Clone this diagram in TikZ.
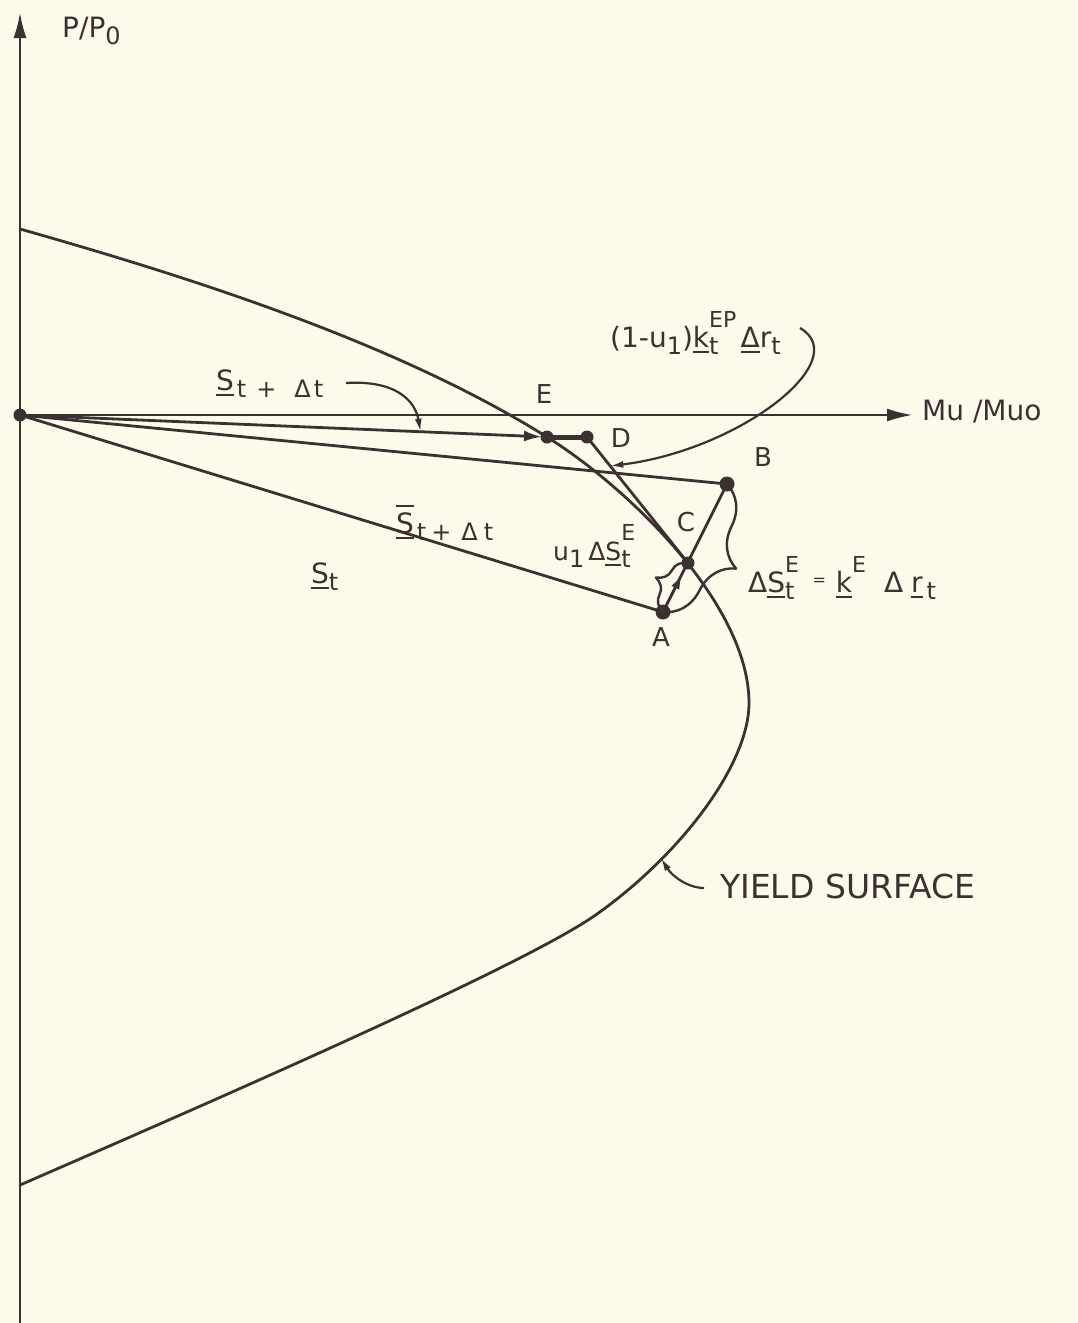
\documentclass[tikz,border=0pt]{standalone}
\usepackage{fontspec}
\setmainfont{DejaVu Sans}
\usetikzlibrary{arrows.meta,calc,decorations.pathreplacing}

\definecolor{paper}{RGB}{253,250,236}
\definecolor{ink}{RGB}{58,50,48}

\newsavebox\lbbox
\newcommand\lbul[1]{\sbox\lbbox{#1}\rlap{\usebox\lbbox}\rule[-6pt]{\wd\lbbox}{2.2pt}}
\newcommand\lbulbar[1]{\sbox\lbbox{#1}\rlap{\usebox\lbbox}\rlap{\rule[-6pt]{\wd\lbbox}{2.2pt}}\rule[\dimexpr\ht\lbbox+5pt\relax]{\wd\lbbox}{2.2pt}}
\newcommand\lbsub[1]{\raisebox{-7pt}{\fontsize{24}{24}\selectfont #1}}
\newcommand\lbsup[1]{\raisebox{20pt}{\fontsize{22}{22}\selectfont #1}}
\newcommand\lbsubsup[2]{\rlap{\lbsup{#1}}\lbsub{#2}}

\begin{document}
\begin{tikzpicture}[
  x=1pt, y=-1pt,
  font=\fontsize{28}{32}\selectfont,
  every node/.style={text=ink},
  line/.style={draw=ink, line width=2.8pt, line cap=round, line join=round},
  heavy/.style={line, line width=5pt},
  ptdot/.style={circle, fill=ink, inner sep=0pt, minimum size=13pt},
  axisarrow/.style={line, -{Latex[length=26pt,width=13pt]}},
  arrow/.style={line, -{Latex[length=18pt,width=11pt]}},
  pointer/.style={draw=ink, line width=2.2pt, -{Latex[length=13pt,width=7pt]}},
  brc/.style={line, line width=2.4pt, decorate},
  lbl/.style={inner sep=0pt, anchor=base west},
  letter/.style={inner sep=0pt, font=\fontsize{26}{30}\selectfont}
]

\fill[paper] (0,0) rectangle (1077,1323);
\useasboundingbox (0,0) rectangle (1077,1323);

\coordinate (O) at (20,415);
\coordinate (ybot) at (20,1323);
\coordinate (ytop) at (20,12);
\coordinate (xtip) at (913,415);
\coordinate (E) at (547,437);
\coordinate (D) at (587,437);
\coordinate (B) at (727,484);
\coordinate (C) at (688,563);
\coordinate (A) at (663,612);
\coordinate (ytip) at (661,858);

\draw[axisarrow] (ybot) -- (ytop);
\draw[axisarrow] (O) -- (xtip);
\node[lbl] (lP) at (62,37) {P/P\lbsub{0}};
\node[lbl] (lM) at (922,420) {Mu /Muo};

\draw[line] (20,229) .. controls (200,280) and (400,345) .. (E)
  .. controls (630,489) and (749,605) .. (749,703)
  .. controls (749,765) and (680,855) .. (597,914)
  .. controls (530,962) and (250,1085) .. (20,1185);

\draw[line] (O) -- (A);
\draw[line] (O) -- (B);
\draw[arrow, shorten >=5pt] (O) -- (E);
\draw[heavy] (E) -- (D);
\draw[line] (D) -- (C);
\draw[line] (A) -- (B);
\draw[pointer, -{Latex[length=14pt,width=9pt]}] (A) -- ($(A)!0.75!(C)$);

\draw[brc, decoration={brace, amplitude=46pt}] (B) -- (A);
\draw[brc, decoration={brace, amplitude=22pt}] (A) -- (C);

\node[ptdot] (dO) at (O) {};
\node[ptdot] (dE) at (E) {};
\node[ptdot] (dD) at (D) {};
\node[ptdot, minimum size=15pt] (dB) at (B) {};
\node[ptdot] (dC) at (C) {};
\node[ptdot, minimum size=15pt] (dA) at (A) {};

\node[letter] (lE) at (544,394) {E};
\node[letter] (lD) at (621,438) {D};
\node[letter] (lB) at (763,457) {B};
\node[letter] (lC) at (686,522) {C};
\node[letter] (lA) at (661,637) {A};

\node[lbl] (lS1) at (216,390) {\lbul{S}\lbsub{\hspace{3pt}t\hspace{10pt}+\hspace{18pt}Δ\hspace{3pt}t}};
\node[lbl] (lS2) at (396,533) {\lbulbar{S}\lbsub{\hspace{3pt}t\hspace{5pt}+\hspace{10pt}Δ\hspace{6pt}t}};
\node[lbl] (lSt) at (311,583) {\lbul{S}\lbsub{t}};
\node[lbl, font=\fontsize{25}{30}\selectfont] (lu) at (553,560) {u\lbsub{1}\hspace{4pt}Δ\lbul{S}\lbsubsup{E}{t}};
\node[lbl] (lk) at (748,592) {Δ\lbul{S}\lbsubsup{E}{t}\hspace{18pt}\raisebox{7pt}{\fontsize{16}{16}\selectfont =}\hspace{10pt}\lbul{k}\lbsup{E}\hspace{18pt}Δ\hspace{8pt}\lbul{r}\hspace{4pt}\lbsub{t}};
\node[lbl] (lkep) at (610,347) {(1-u\lbsub{1})\lbul{k}\lbsubsup{EP}{t}\hspace{22pt}\lbul{Δ}r\lbsub{t}};
\node[lbl, font=\fontsize{33}{40}\selectfont] (lY) at (720,898) {YIELD SURFACE};

\draw[pointer] (346,383) .. controls (395,380) and (415,400) .. ($(O)!0.76!(E)$);
\draw[pointer] (800,328) .. controls (855,360) and (740,450) .. ($(D)!0.23!(C)$);
\draw[pointer] ($(lY.west)+(-16,2)$) .. controls (688,888) and (672,876) .. (ytip);

\end{tikzpicture}
\end{document}
